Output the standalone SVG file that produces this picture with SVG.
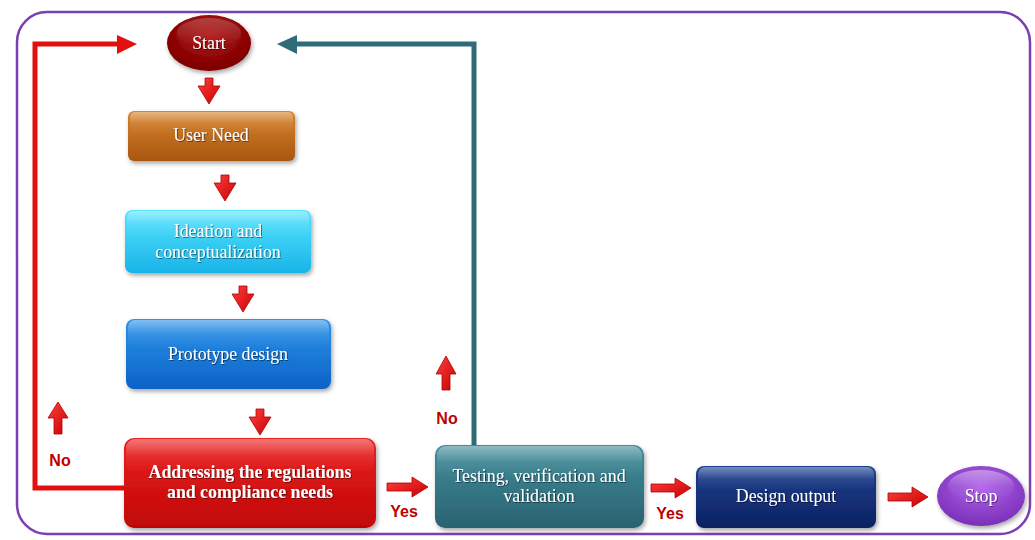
<svg xmlns="http://www.w3.org/2000/svg" width="1035" height="540" viewBox="0 0 1035 540">
<defs>
<style>
.t{font-family:"Liberation Serif","Times New Roman",serif;fill:#fff;text-anchor:middle;font-size:17.8px}
.b{font-weight:bold}
.lbl{font-family:"Liberation Sans",Arial,sans-serif;font-weight:bold;fill:#c00000;font-size:16px;text-anchor:middle}
.arr{fill:url(#ga);stroke:#b00000;stroke-width:0.8}
</style>
<filter id="sh" x="-10%" y="-10%" width="125%" height="130%"><feDropShadow dx="1.5" dy="2.5" stdDeviation="2" flood-color="#000" flood-opacity="0.35"/></filter>
<filter id="ts"><feDropShadow dx="0.8" dy="0.8" stdDeviation="0.6" flood-color="#000" flood-opacity="0.6"/></filter>
<linearGradient id="gl" x1="0" y1="0" x2="0" y2="1"><stop offset="0" stop-color="#fff" stop-opacity="0.4"/><stop offset="0.5" stop-color="#fff" stop-opacity="0.08"/><stop offset="1" stop-color="#fff" stop-opacity="0"/></linearGradient>
<linearGradient id="gl2" x1="0" y1="0" x2="0" y2="1"><stop offset="0" stop-color="#fff" stop-opacity="0.22"/><stop offset="1" stop-color="#fff" stop-opacity="0"/></linearGradient>
<linearGradient id="ga" x1="0" y1="0" x2="1" y2="1"><stop offset="0" stop-color="#ff4040"/><stop offset="1" stop-color="#c80000"/></linearGradient>
<linearGradient id="g1" x1="0" y1="0" x2="0" y2="1"><stop offset="0" stop-color="#d8842e"/><stop offset="1" stop-color="#a85610"/></linearGradient>
<linearGradient id="g2" x1="0" y1="0" x2="0" y2="1"><stop offset="0" stop-color="#58e4ff"/><stop offset="1" stop-color="#18b4e8"/></linearGradient>
<linearGradient id="g3" x1="0" y1="0" x2="0" y2="1"><stop offset="0" stop-color="#2e94ea"/><stop offset="1" stop-color="#0a62c6"/></linearGradient>
<linearGradient id="g4" x1="0" y1="0" x2="0" y2="1"><stop offset="0" stop-color="#ec2020"/><stop offset="1" stop-color="#c00606"/></linearGradient>
<linearGradient id="g5" x1="0" y1="0" x2="0" y2="1"><stop offset="0" stop-color="#428d9b"/><stop offset="1" stop-color="#296270"/></linearGradient>
<linearGradient id="g6" x1="0" y1="0" x2="0" y2="1"><stop offset="0" stop-color="#1c3f8e"/><stop offset="1" stop-color="#0d2262"/></linearGradient>
<radialGradient id="g0" cx="0.5" cy="0.35" r="0.65"><stop offset="0" stop-color="#b01010"/><stop offset="1" stop-color="#7c0000"/></radialGradient>
<radialGradient id="g7" cx="0.5" cy="0.35" r="0.65"><stop offset="0" stop-color="#b060ea"/><stop offset="1" stop-color="#7a30b8"/></radialGradient>
</defs>
<rect x="17" y="12" width="1013" height="522" rx="30" fill="#fff" stroke="#7a3fb0" stroke-width="2.5"/>

<g id="connectors">
<polyline points="124,488 35,488 35,44 120,44" fill="none" stroke="#e41010" stroke-width="5"/>
<polygon points="117,35 137,44 117,54" fill="#e41010"/>
<polyline points="474,445 474,44 295,44" fill="none" stroke="#2f6c78" stroke-width="5"/>
<polygon points="297,35 277,44 297,54" fill="#2f6c78"/>
<polygon class="arr" points="205,78 213,78 213,86 220,86 209,104 198,86 205,86"/>
<polygon class="arr" points="221,175 229,175 229,183 236,183 225,201 214,183 221,183"/>
<polygon class="arr" points="239,286 247,286 247,294 254,294 243,312 232,294 239,294"/>
<polygon class="arr" points="256,409 264,409 264,417 271,417 260,435 249,417 256,417"/>
<polygon class="arr" points="387,483 412,483 412,477 428,487 412,497 412,491 387,491"/>
<polygon class="arr" points="651,484 675,484 675,478 691,488 675,498 675,492 651,492"/>
<polygon class="arr" points="888,493 912,493 912,487 928,497 912,507 912,501 888,501"/>
<polygon class="arr" points="54,434 62,434 62,418 68,418 58,402 48,418 54,418"/>
<polygon class="arr" points="442,390 450,390 450,374 456,374 446,356 436,374 442,374"/>
<text class="lbl" x="60" y="466">No</text>
<text class="lbl" x="447" y="424">No</text>
<text class="lbl" x="404" y="517">Yes</text>
<text class="lbl" x="670" y="519">Yes</text>
</g>

<g id="start" filter="url(#sh)">
<ellipse cx="209" cy="43" rx="42" ry="28" fill="url(#g0)"/>
<ellipse cx="209" cy="33" rx="32" ry="15" fill="url(#gl2)"/>
<text class="t" x="209" y="49" font-size="16" filter="url(#ts)">Start</text>
</g>
<g id="userneed" filter="url(#sh)">
<rect x="128" y="111" width="167" height="50" rx="6" fill="url(#g1)"/>
<rect x="130" y="112" width="163" height="22" rx="5" fill="url(#gl)"/>
<text class="t" x="211" y="141" filter="url(#ts)">User Need</text>
</g>
<g id="ideation" filter="url(#sh)">
<rect x="125" y="210" width="186" height="63" rx="7" fill="url(#g2)"/>
<rect x="127" y="211" width="182" height="26" rx="6" fill="url(#gl)"/>
<text class="t" x="218" y="237" filter="url(#ts)">Ideation and</text>
<text class="t" x="218" y="258" filter="url(#ts)">conceptualization</text>
</g>
<g id="prototype" filter="url(#sh)">
<rect x="126" y="319" width="205" height="70" rx="8" fill="url(#g3)"/>
<rect x="128" y="320" width="201" height="28" rx="7" fill="url(#gl)"/>
<text class="t" x="228" y="360" filter="url(#ts)">Prototype design</text>
</g>
<g id="addressing" filter="url(#sh)">
<rect x="124" y="438" width="252" height="90" rx="10" fill="url(#g4)"/>
<rect x="126" y="439" width="248" height="34" rx="9" fill="url(#gl)"/>
<text class="t b" x="250" y="478" font-size="17.2" filter="url(#ts)">Addressing the regulations</text>
<text class="t b" x="250" y="498" font-size="17.2" filter="url(#ts)">and compliance needs</text>
</g>
<g id="testing" filter="url(#sh)">
<rect x="435" y="445" width="209" height="83" rx="10" fill="url(#g5)"/>
<rect x="437" y="446" width="205" height="32" rx="9" fill="url(#gl)"/>
<text class="t" x="539" y="482" filter="url(#ts)">Testing, verification and</text>
<text class="t" x="539" y="502" filter="url(#ts)">validation</text>
</g>
<g id="designoutput" filter="url(#sh)">
<rect x="696" y="466" width="180" height="62" rx="8" fill="url(#g6)"/>
<rect x="698" y="467" width="176" height="24" rx="7" fill="url(#gl)"/>
<text class="t" x="786" y="502" filter="url(#ts)">Design output</text>
</g>
<g id="stop" filter="url(#sh)">
<ellipse cx="981" cy="496" rx="44" ry="30" fill="url(#g7)"/>
<ellipse cx="981" cy="486" rx="33" ry="16" fill="url(#gl)"/>
<text class="t" x="981" y="502" font-size="16" filter="url(#ts)">Stop</text>
</g>
</svg>
